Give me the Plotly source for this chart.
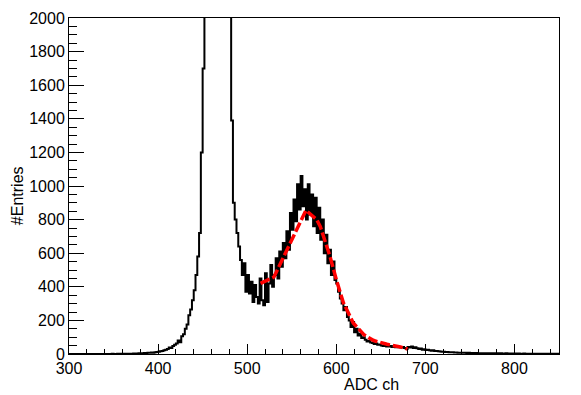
import plotly.graph_objects as go

# Histogram: bin low edges start at 300, bin width 2 ADC channels
bin_start = 300
bin_width = 2
counts = [
    0, 0, 0, 0, 0, 0, 0, 0, 0, 0,
    0, 0, 0, 0, 0, 0, 0, 0, 0, 0,
    0, 0, 0, 0, 1, 0, 0, 1, 0, 1,
    1, 0, 1, 2, 1, 2, 3, 2, 3, 4,
    4, 5, 6, 5, 7, 8, 9, 8, 10, 12,
    14, 16, 18, 22, 26, 30, 38, 35, 48, 55,
    62, 80, 70, 105, 118, 150, 175, 230, 265, 320,
    380, 470, 580, 720, 1200, 1700, 2600, 3000, 3300, 3500,
    3600, 3600, 3500, 3400, 3200, 3000, 2800, 2600, 2400, 2200,
    2100, 1390, 900, 800, 720, 640, 560, 470, 540, 370,
    470, 360, 430, 310, 410, 340, 300, 450, 320, 290,
    480, 310, 420, 530, 400, 470, 570, 450, 610, 520,
    660, 570, 730, 620, 840, 740, 920, 790, 1010, 860,
    1060, 880, 980, 800, 1010, 830, 950, 760, 930, 720,
    870, 680, 800, 600, 710, 540, 620, 470, 550, 440,
    420, 370, 330, 300, 260, 280, 220, 200, 160, 190,
    130, 150, 110, 120, 95, 100, 85, 75, 78, 68,
    65, 60, 62, 55, 57, 50, 48, 52, 45, 44,
    48, 42, 46, 40, 44, 40, 38, 42, 36, 30,
    42, 38, 44, 36, 40, 34, 30, 32, 26, 28,
    24, 26, 22, 20, 22, 18, 18, 16, 15, 14,
    13, 12, 12, 11, 10, 10, 9, 9, 8, 8,
    7, 8, 7, 6, 7, 6, 6, 5, 6, 5,
    5, 5, 4, 5, 4, 4, 5, 4, 3, 4,
    4, 3, 4, 3, 3, 4, 3, 3, 2, 3,
    3, 2, 3, 2, 2, 3, 2, 2, 2, 2,
    2, 1, 2, 2, 1, 2, 1, 1, 2, 1,
    1, 1, 1, 1, 1,
]

# Fit curve as drawn (red)
fit_x = [515, 530, 566, 578, 582, 593, 601, 608, 619, 631, 642, 657, 672, 680]
fit_y = [420, 458, 855, 800, 760, 580, 425, 305, 185, 115, 80, 58, 42, 30]

x_ticks = [300, 400, 500, 600, 700, 800]
y_ticks = [0, 200, 400, 600, 800, 1000, 1200, 1400, 1600, 1800, 2000]

edges = [bin_start + i * bin_width for i in range(len(counts) + 1)]
step_y = counts + [counts[-1]]

fig = go.Figure()
fig.add_trace(go.Scatter(
    x=edges, y=step_y, mode="lines", line_shape="hv",
    line=dict(color="black", width=2), showlegend=False, hoverinfo="skip",
))
fig.add_trace(go.Scatter(
    x=fit_x, y=fit_y, mode="lines",
    line=dict(color="#ff0000", width=3.5, dash="10px,3px"),
    showlegend=False, hoverinfo="skip",
))

font = dict(family="Liberation Sans, Arial, sans-serif", size=16, color="black")

fig.update_layout(
    width=581, height=395,
    margin=dict(l=69, r=22, t=18, b=41, autoexpand=False),
    paper_bgcolor="white", plot_bgcolor="white",
    font=font,
    xaxis=dict(
        range=[300, 850], tickvals=x_ticks, ticks="inside", ticklen=10,
        tickwidth=1, tickcolor="black", showgrid=False, zeroline=False,
        showline=True, linecolor="black", linewidth=1, mirror=True,
        minor=dict(dtick=20, tick0=300, ticks="inside", ticklen=5, tickcolor="black", showgrid=False),
        tickfont=font, automargin=False,
    ),
    yaxis=dict(
        range=[0, 2000], tickvals=y_ticks, ticks="inside", ticklen=15,
        tickwidth=1, tickcolor="black", showgrid=False, zeroline=False,
        showline=True, linecolor="black", linewidth=1, mirror=True,
        minor=dict(dtick=50, tick0=0, ticks="inside", ticklen=7.5, tickcolor="black", showgrid=False),
        tickfont=font, automargin=False,
    ),
    annotations=[
        dict(text="ADC ch", xref="x", yref="paper", x=640, y=-0.09,
             xanchor="center", yanchor="middle", showarrow=False, font=font),
        dict(text="#Entries", xref="paper", yref="paper", x=-0.106, y=0.47,
             xanchor="center", yanchor="middle", textangle=-90, showarrow=False, font=font),
    ],
)

fig.write_html(
    "out.html",
    config={"displayModeBar": False},
    post_script="document.body.style.margin='0';document.body.style.overflow='hidden';",
)
